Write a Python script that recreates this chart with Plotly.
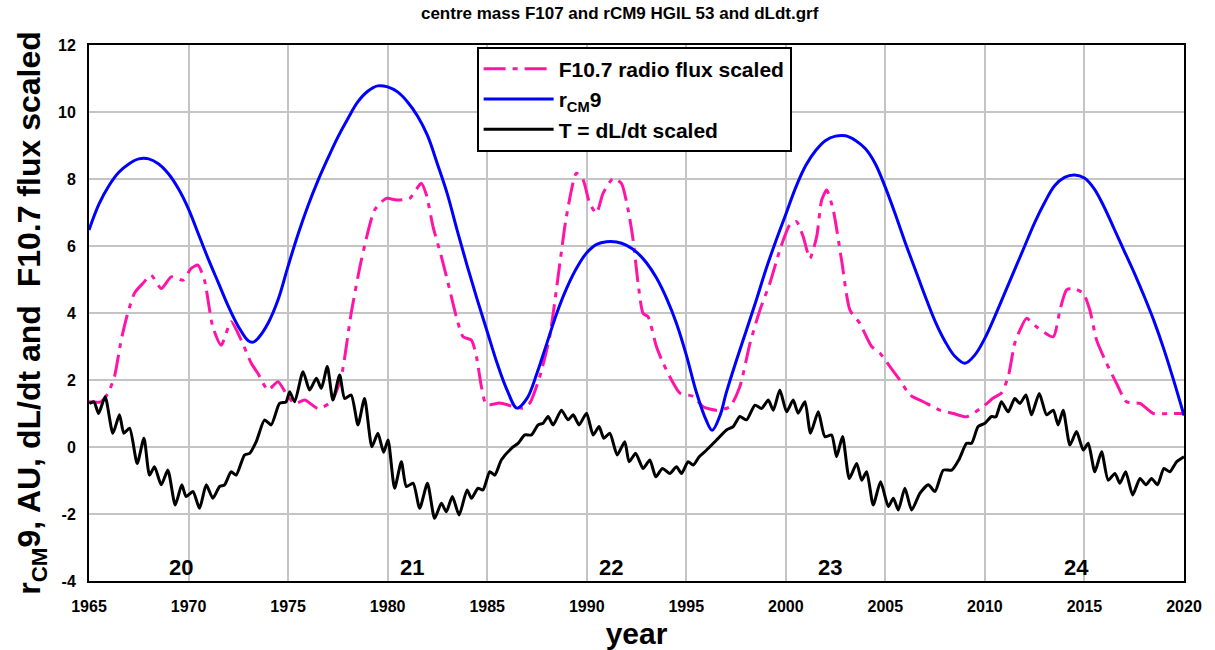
import plotly.graph_objects as go

# ---------------- data ----------------
f107_year = [1965.0, 1965.6, 1965.95, 1966.28, 1966.62, 1966.95, 1967.29, 1967.7, 1968.12, 1968.63,
             1969.13, 1969.72, 1970.13, 1970.47, 1970.8, 1971.22, 1971.64, 1972.14, 1972.64, 1973.15,
             1973.48, 1973.99, 1974.49, 1975.0, 1975.33, 1975.84, 1976.5, 1977.17, 1977.67, 1978.17,
             1978.68, 1979.35, 1979.93, 1980.44, 1981.1, 1981.69, 1981.95, 1982.28, 1982.7, 1983.12,
             1983.45, 1983.79, 1984.21, 1984.46, 1984.71, 1984.96, 1985.63, 1986.3, 1986.8, 1987.14,
             1987.64, 1988.14, 1988.65, 1988.98, 1989.48, 1989.82, 1990.15, 1990.49, 1990.82, 1991.33,
             1991.74, 1992.08, 1992.33, 1992.58, 1992.83, 1993.08, 1993.5, 1993.84, 1994.26, 1994.68,
             1995.35, 1995.85, 1996.52, 1997.19, 1997.69, 1998.2, 1998.7, 1999.2, 1999.7, 2000.2,
             2000.54, 2000.87, 2001.21, 2001.55, 2001.8, 2002.05, 2002.38, 2002.8, 2003.22, 2003.72,
             2004.31, 2004.73, 2005.23, 2005.73, 2006.24, 2006.91, 2007.74, 2008.41, 2009.08, 2009.91,
             2010.42, 2010.83, 2011.17, 2011.5, 2011.76, 2012.09, 2012.59, 2013.43, 2013.77, 2014.1,
             2014.43, 2014.94, 2015.27, 2015.61, 2016.11, 2016.61, 2017.11, 2017.79, 2018.46, 2019.29,
             2020.0]
f107_val = [1.35, 1.35, 1.6, 2.1, 3.2, 4.0, 4.6, 4.88, 5.13, 4.73,
            5.08, 4.98, 5.33, 5.43, 4.98, 3.58, 3.04, 3.74, 3.2, 2.5,
            2.2, 1.7, 1.95, 1.5, 1.3, 1.4, 1.15, 1.35, 2.1, 4.0,
            5.58, 7.08, 7.42, 7.37, 7.42, 7.87, 7.52, 6.58, 5.68, 4.69,
            3.89, 3.29, 3.19, 2.7, 1.8, 1.26, 1.31, 1.21, 1.16, 1.31,
            2.1, 3.29, 5.48, 6.88, 8.17, 7.97, 7.27, 6.98, 7.57, 8.02,
            7.87, 7.08, 6.18, 4.89, 3.99, 3.89, 3.0, 2.5, 2.0, 1.61,
            1.51, 1.2, 1.1, 1.2, 1.8, 3.09, 4.09, 4.89, 5.88, 6.63,
            6.73, 6.28, 5.63, 6.28, 7.37, 7.67, 7.08, 5.58, 4.09, 3.69,
            3.0, 2.8, 2.4, 2.0, 1.55, 1.35, 1.1, 1.0, 0.9, 1.21,
            1.46, 1.61, 2.1, 3.1, 3.49, 3.84, 3.59, 3.29, 4.09, 4.69,
            4.74, 4.59, 4.09, 3.19, 2.5, 1.9, 1.35, 1.3, 1.0, 1.0,
            1.0]

rcm_year = [1965.0, 1965.5, 1966.0, 1966.5, 1967.0, 1967.5, 1968.0, 1968.5, 1969.0, 1969.5,
            1970.0, 1970.5, 1971.0, 1971.5, 1972.0, 1972.5, 1973.0, 1973.25, 1973.5, 1974.0,
            1974.5, 1975.0, 1975.5, 1976.0, 1976.5, 1977.0, 1977.5, 1978.0, 1978.5, 1979.0,
            1979.5, 1980.0, 1980.5, 1981.0, 1981.5, 1982.0, 1982.5, 1983.0, 1983.5, 1984.0,
            1984.5, 1985.0, 1985.5, 1986.0, 1986.5, 1987.0, 1987.5, 1988.0, 1988.5, 1989.0,
            1989.5, 1990.0, 1990.5, 1991.0, 1991.5, 1992.0, 1992.5, 1993.0, 1993.5, 1994.0,
            1994.5, 1995.0, 1995.5, 1996.0, 1996.3, 1996.7, 1997.0, 1997.5, 1998.0, 1998.5,
            1999.0, 1999.5, 2000.0, 2000.5, 2001.0, 2001.5, 2002.0, 2002.5, 2003.0, 2003.5,
            2004.0, 2004.5, 2005.0, 2005.5, 2006.0, 2006.5, 2007.0, 2007.5, 2008.0, 2008.5,
            2009.0, 2009.5, 2010.0, 2010.5, 2011.0, 2011.5, 2012.0, 2012.5, 2013.0, 2013.5,
            2014.0, 2014.5, 2015.0, 2015.5, 2016.0, 2016.5, 2017.0, 2017.5, 2018.0, 2018.5,
            2019.0, 2019.5, 2020.0]
rcm_val = [6.48, 7.25, 7.8, 8.2, 8.45, 8.6, 8.6, 8.45, 8.15, 7.7,
           7.1, 6.35, 5.6, 4.9, 4.2, 3.6, 3.17, 3.13, 3.25, 3.7,
           4.4, 5.4, 6.35, 7.2, 7.95, 8.62, 9.25, 9.8, 10.3, 10.62,
           10.78, 10.75, 10.6, 10.3, 9.88, 9.3, 8.45, 7.55, 6.45, 5.4,
           4.4, 3.45, 2.5, 1.7, 1.16, 1.45, 2.2, 3.1, 4.0, 4.75,
           5.35, 5.8, 6.05, 6.13, 6.12, 6.02, 5.82, 5.5, 5.05, 4.45,
           3.7, 2.75, 1.65, 0.8, 0.5, 0.95, 1.6, 2.55, 3.45, 4.35,
           5.3, 6.15, 6.95, 7.75, 8.4, 8.85, 9.15, 9.28, 9.29, 9.15,
           8.9, 8.45, 7.75, 6.95, 6.1, 5.3, 4.5, 3.75, 3.15, 2.7,
           2.5, 2.75, 3.25, 3.9, 4.6, 5.3, 6.0, 6.7, 7.3, 7.8,
           8.05, 8.12, 8.03, 7.7, 7.15, 6.5, 5.85, 5.2, 4.5, 3.75,
           2.9, 1.95, 0.94]

dldt_year = [1965.02, 1965.25, 1965.48, 1965.81, 1966.2, 1966.53, 1966.75, 1967.04, 1967.42, 1967.76,
             1968.04, 1968.29, 1968.63, 1968.96, 1969.33, 1969.66, 1969.88, 1970.22, 1970.55, 1970.89,
             1971.22, 1971.56, 1971.81, 1972.14, 1972.39, 1972.81, 1973.07, 1973.4, 1973.82, 1974.15,
             1974.57, 1974.9, 1975.08, 1975.33, 1975.75, 1976.08, 1976.42, 1976.67, 1976.97, 1977.25,
             1977.59, 1977.84, 1978.17, 1978.51, 1978.84, 1979.21, 1979.51, 1979.8, 1980.02, 1980.35,
             1980.69, 1980.94, 1981.28, 1981.61, 1982.0, 1982.36, 1982.7, 1982.95, 1983.25, 1983.59,
             1983.99, 1984.21, 1984.54, 1984.79, 1985.13, 1985.38, 1985.71, 1986.22, 1986.55, 1986.89,
             1987.22, 1987.56, 1987.81, 1988.06, 1988.31, 1988.73, 1989.06, 1989.32, 1989.62, 1989.99,
             1990.32, 1990.62, 1990.86, 1991.16, 1991.53, 1991.91, 1992.13, 1992.46, 1992.83, 1993.17,
             1993.47, 1993.8, 1994.17, 1994.51, 1994.76, 1995.09, 1995.35, 1995.65, 1996.02, 1996.52,
             1997.02, 1997.36, 1997.69, 1998.03, 1998.45, 1998.78, 1999.12, 1999.37, 1999.7, 2000.04,
             2000.37, 2000.62, 2000.96, 2001.24, 2001.63, 2001.96, 2002.3, 2002.55, 2002.85, 2003.19,
             2003.56, 2003.81, 2004.06, 2004.39, 2004.76, 2005.15, 2005.4, 2005.65, 2005.98, 2006.32,
             2006.74, 2007.16, 2007.49, 2007.91, 2008.33, 2008.7, 2009.08, 2009.33, 2009.66, 2010.0,
             2010.33, 2010.55, 2010.83, 2011.17, 2011.5, 2011.76, 2012.06, 2012.34, 2012.73, 2013.1,
             2013.43, 2013.68, 2013.93, 2014.27, 2014.6, 2014.94, 2015.19, 2015.52, 2015.86, 2016.19,
             2016.53, 2016.78, 2017.07, 2017.42, 2017.79, 2018.09, 2018.37, 2018.67, 2018.99, 2019.29,
             2019.63, 2020.0]
dldt_val = [1.3, 1.35, 1.0, 1.5, 0.41, 0.96, 0.41, 0.56, -0.49, 0.26,
            -0.84, -0.59, -1.13, -0.69, -1.73, -1.13, -1.48, -1.33, -1.83, -1.13,
            -1.53, -1.18, -1.13, -0.74, -0.84, -0.24, -0.19, 0.16, 0.81, 0.66,
            1.3, 1.35, 1.65, 1.35, 2.25, 1.7, 2.05, 1.75, 2.4, 1.4,
            2.15, 1.45, 1.55, 0.66, 1.45, 0.01, 0.41, -0.16, 0.21, -1.23,
            -0.44, -1.18, -1.08, -1.83, -1.08, -2.13, -1.68, -1.93, -1.48, -2.03,
            -1.28, -1.53, -1.23, -1.28, -0.74, -0.84, -0.39, -0.04, 0.11, 0.36,
            0.36, 0.66, 0.71, 0.91, 0.66, 1.1, 0.81, 0.96, 0.66, 1.01,
            0.36, 0.61, 0.26, 0.41, -0.24, 0.16, -0.44, -0.19, -0.64, -0.39,
            -0.89, -0.64, -0.79, -0.59, -0.79, -0.44, -0.54, -0.29, -0.09, 0.21,
            0.51, 0.61, 0.91, 0.81, 1.25, 1.15, 1.4, 1.1, 1.7, 1.05,
            1.4, 1.01, 1.35, 0.41, 1.05, 0.31, 0.36, -0.29, 0.31, -0.94,
            -0.49, -0.99, -0.74, -1.73, -1.04, -1.78, -1.53, -1.88, -1.23, -1.88,
            -1.38, -1.13, -1.33, -0.69, -0.69, -0.37, 0.11, 0.11, 0.61, 0.71,
            0.91, 0.9, 1.35, 1.05, 1.45, 1.3, 1.55, 0.96, 1.6, 0.96,
            1.1, 0.66, 1.1, 0.06, 0.46, -0.09, 0.11, -0.74, -0.14, -0.99,
            -0.79, -1.08, -0.74, -1.43, -0.94, -1.13, -0.94, -1.13, -0.64, -0.74,
            -0.44, -0.29]

cycle_labels = ["20", "21", "22", "23", "24"]
cycle_year = [1969.6, 1981.2, 1991.2, 2002.2, 2014.6]
cycle_level = [-3.6, -3.6, -3.6, -3.6, -3.6]

x_ticks = [1965, 1970, 1975, 1980, 1985, 1990, 1995, 2000, 2005, 2010, 2015, 2020]
y_ticks = [-4, -2, 0, 2, 4, 6, 8, 10, 12]
y_tick_text = [str(v) for v in y_ticks]

# ---------------- figure ----------------
FONT = "Liberation Sans, Arial, sans-serif"

fig = go.Figure()
fig.add_trace(go.Scatter(
    x=f107_year, y=f107_val, mode="lines", name="F10.7 radio flux scaled",
    line=dict(color="#FF14A8", width=3, dash="22px,7px,5px,7px", shape="spline", smoothing=0.6)))
fig.add_trace(go.Scatter(
    x=rcm_year, y=rcm_val, mode="lines", name="r<sub>CM</sub>9",
    line=dict(color="#0000FF", width=3, shape="spline", smoothing=1.0)))
fig.add_trace(go.Scatter(
    x=dldt_year, y=dldt_val, mode="lines", name="T = dL/dt scaled",
    line=dict(color="#000000", width=3, shape="spline", smoothing=0.6)))

for lab, xv, yv in zip(cycle_labels, cycle_year, cycle_level):
    fig.add_annotation(x=xv, y=yv, text=lab, showarrow=False, xref="x", yref="y",
                       font=dict(family=FONT, size=22, color="black", weight="bold"))

fig.update_layout(
    width=1215, height=650,
    margin=dict(l=89, r=31, t=45, b=69),
    paper_bgcolor="white", plot_bgcolor="white",
    title=dict(text="centre mass F107 and rCM9 HGIL 53 and dLdt.grf",
               x=0.51, xanchor="center", y=1 - 13 / 650, yanchor="middle",
               font=dict(family=FONT, size=17, color="black", weight="bold")),
    legend=dict(x=0.354, y=0.997, xanchor="left", yanchor="top",
                bgcolor="white", bordercolor="black", borderwidth=2,
                font=dict(family=FONT, size=21, color="black", weight="bold"),
                itemwidth=70, tracegroupgap=0),
    showlegend=True,
)
fig.update_xaxes(
    range=[1965, 2020], tickmode="array", tickvals=x_ticks, automargin=False,
    showgrid=True, gridcolor="#C4C4C4", gridwidth=1.5,
    showline=True, linecolor="black", linewidth=2, mirror=True,
    zeroline=False, ticks="", ticklabelstandoff=10,
    tickfont=dict(family=FONT, size=16, color="black", weight="bold"),
    title=dict(text="year", standoff=10,
               font=dict(family=FONT, size=30, color="black", weight="bold")))
fig.update_yaxes(
    range=[-4, 12], tickmode="array", tickvals=y_ticks, ticktext=y_tick_text, automargin=False,
    showgrid=True, gridcolor="#C4C4C4", gridwidth=1.5,
    showline=True, linecolor="black", linewidth=2, mirror=True,
    zeroline=False, ticks="", ticklabelstandoff=8,
    tickfont=dict(family=FONT, size=16, color="black", weight="bold"),
    title=dict(text="r<sub>CM</sub>9, AU, dL/dt and  F10.7 flux scaled", standoff=8,
               font=dict(family=FONT, size=32, color="black", weight="bold")))

fig.write_html("out.html")
